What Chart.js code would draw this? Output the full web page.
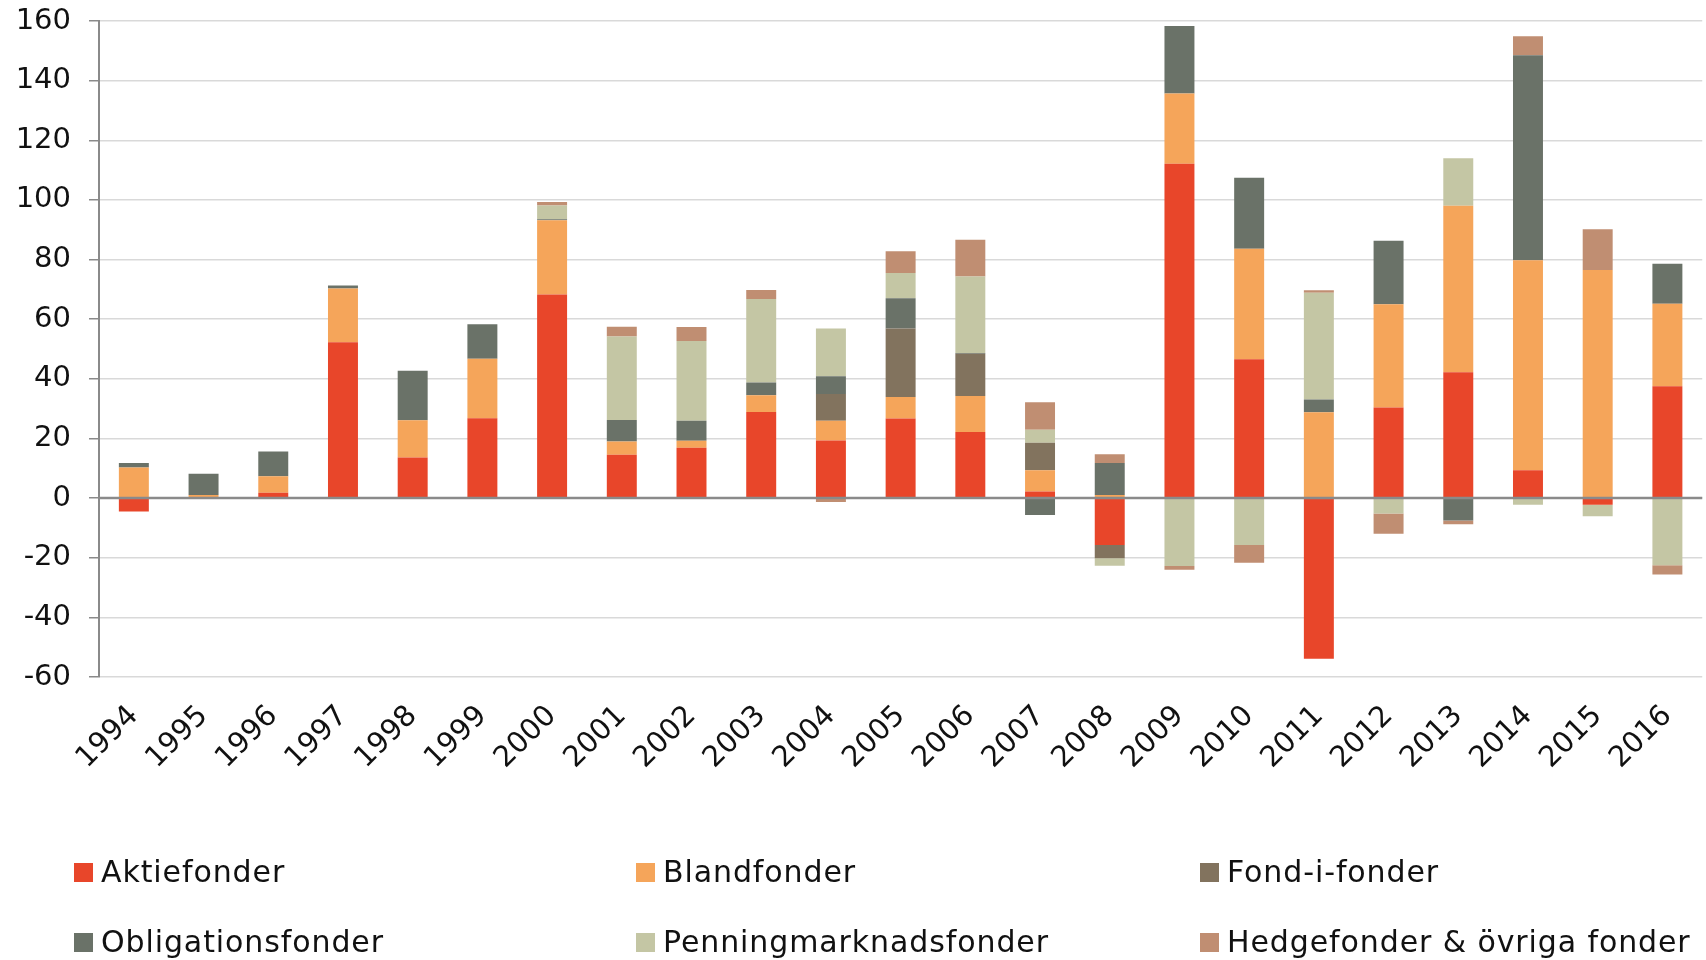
<!DOCTYPE html>
<html>
<head>
<meta charset="utf-8">
<script src="https://cdn.jsdelivr.net/npm/chart.js@4.4.0/dist/chart.umd.min.js"></script>
<style>
    body { margin: 0; background: #fff; }
    .wrap { position: relative; width: 1706px; height: 960px; }
    #chart { position: absolute; left: 0; top: 0; }
    .legend { position: absolute; left: 0; top: 0; font-family: "DejaVu Sans", Verdana, sans-serif; font-size: 30px; letter-spacing: 0.9px; color: #111; }
    .legend .item { position: absolute; height: 30px; line-height: 30px; white-space: nowrap; }
    .legend .box { position: absolute; left: 0; top: 6px; width: 19px; height: 19px; }
    .legend .label { position: absolute; left: 27px; top: 0; }
</style>
</head>
<body>
<div class="wrap">
    <canvas id="chart" width="1706" height="960"></canvas>
    <div class="legend" id="legend"></div>
</div>
<script>
// Nettoflöden per fondtyp, 1994-2016
const years = ["1994", "1995", "1996", "1997", "1998", "1999", "2000", "2001", "2002", "2003", "2004", "2005",
               "2006", "2007", "2008", "2009", "2010", "2011", "2012", "2013", "2014", "2015", "2016"];

const aktiefonder = [-4.5, 0.2, 1.8, 52.3, 13.6, 26.8, 68.3, 14.5, 16.9, 28.9, 19.3, 26.7,
                     22.2, 2.2, -15.7, 112.1, 46.6, -53.9, 30.4, 42.2, 9.3, -2.2, 37.5];
const blandfonder = [10.3, 0.8, 5.5, 18.0, 12.5, 19.9, 24.9, 4.5, 2.3, 5.6, 6.6, 7.2,
                     12.0, 7.1, 1.0, 23.6, 37.0, 28.8, 34.6, 55.8, 70.5, 76.5, 27.7];
const fondIFonder = [0, 0, 0, 0, 0, 0, 0, 0, 0, 0, 9.0, 23.0,
                     14.2, 9.3, -4.5, 0, 0, 0, 0, 0, 0, 0, 0];
const obligationsfonder = [1.5, 7.2, 8.3, 1.0, 16.6, 11.6, 0.3, 7.2, 6.7, 4.3, 6.0, 10.1,
                           0.3, -5.7, 10.8, 22.6, 23.8, 4.3, 21.3, -7.5, 68.7, 0, 13.4];
const penningmarknadsfonder = [0, 0, 0, 0, 0, 0, 4.6, 28.0, 26.8, 28.0, 16.0, 8.5,
                               25.6, 4.3, -2.5, -22.8, -15.7, 35.8, -5.2, 16.0, -2.2, -3.9, -22.5];
const hedgefonder = [0, 0, 0, 0, 0, 0, 1.2, 3.3, 4.7, 3.0, -1.3, 7.3,
                     12.3, 9.2, 2.9, -1.2, -6.0, 0.8, -6.8, -1.3, 6.4, 13.7, -3.1];

const yTicks = [160, 140, 120, 100, 80, 60, 40, 20, 0, -20, -40, -60];

const series = [
    { label: "Aktiefonder", data: aktiefonder, color: "#e8462a" },
    { label: "Blandfonder", data: blandfonder, color: "#f5a55a" },
    { label: "Fond-i-fonder", data: fondIFonder, color: "#82735e" },
    { label: "Obligationsfonder", data: obligationsfonder, color: "#6a7268" },
    { label: "Penningmarknadsfonder", data: penningmarknadsfonder, color: "#c4c6a4" },
    { label: "Hedgefonder & övriga fonder", data: hedgefonder, color: "#c08e72" }
];

const FONT = '"DejaVu Sans", Verdana, sans-serif';

// zero line drawn on top of the bars
const zeroLine = {
    id: 'zeroLine',
    afterDatasetsDraw(chart) {
        const { ctx, chartArea, scales } = chart;
        const y = scales.y.getPixelForValue(0);
        ctx.save();
        ctx.strokeStyle = '#8a8a8a';
        ctx.lineWidth = 2.5;
        ctx.beginPath();
        ctx.moveTo(chartArea.left, y);
        ctx.lineTo(chartArea.right, y);
        ctx.stroke();
        ctx.restore();
    }
};

new Chart(document.getElementById('chart'), {
    type: 'bar',
    data: {
        labels: years,
        datasets: series.map(s => ({
            label: s.label,
            data: s.data,
            backgroundColor: s.color,
            borderWidth: 0,
            categoryPercentage: 1,
            barPercentage: 0.43
        }))
    },
    options: {
        responsive: false,
        animation: false,
        layout: { padding: { top: 21, right: 0, bottom: 0, left: 0 } },
        plugins: { legend: { display: false }, tooltip: { enabled: false } },
        scales: {
            x: {
                stacked: true,
                grid: { display: false },
                border: { display: false },
                ticks: {
                    color: '#111',
                    font: { family: FONT, size: 29 },
                    maxRotation: 45,
                    minRotation: 45,
                    padding: 14
                },
                afterFit(scale) { scale.height = 283; }
            },
            y: {
                stacked: true,
                min: -60,
                max: 160,
                afterBuildTicks(scale) { scale.ticks = yTicks.map(v => ({ value: v })); },
                grid: {
                    color: '#d9d9d9',
                    lineWidth: 1.5,
                    tickColor: '#8a8a8a',
                    tickLength: 10
                },
                border: { color: '#8a8a8a', width: 2 },
                ticks: {
                    color: '#111',
                    font: { family: FONT, size: 29 },
                    padding: 18
                },
                afterFit(scale) {
                    scale.width = 99;
                    scale.paddingTop = 0;
                    scale.paddingBottom = 0;
                }
            }
        }
    },
    plugins: [zeroLine]
});

// legend: 3 columns, 2 rows
const legendCols = [74, 636, 1200];
const legendRows = [857, 927];
const legend = document.getElementById('legend');
series.forEach((s, i) => {
    const item = document.createElement('div');
    item.className = 'item';
    item.style.left = legendCols[i % 3] + 'px';
    item.style.top = legendRows[Math.floor(i / 3)] + 'px';
    item.innerHTML = '<span class="box" style="background:' + s.color + '"></span><span class="label"></span>';
    item.querySelector('.label').textContent = s.label;
    legend.appendChild(item);
});
</script>
</body>
</html>
